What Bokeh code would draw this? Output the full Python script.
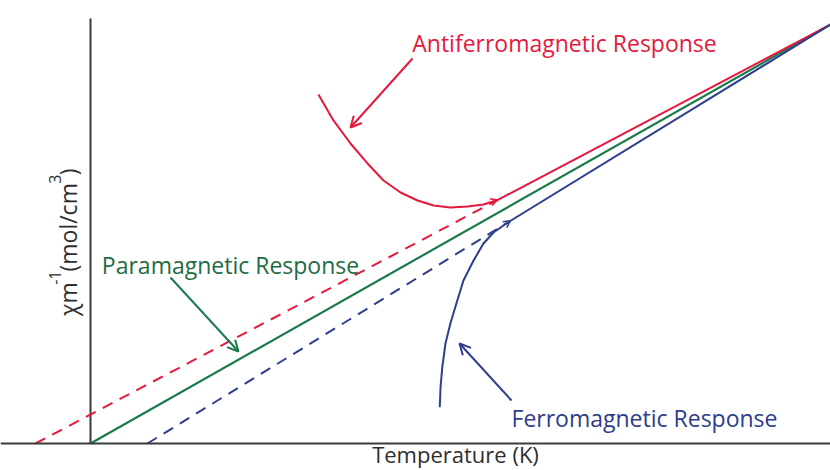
import math
from bokeh.plotting import figure
from bokeh.models import Range1d, Label, Arrow, OpenHead, Span
from bokeh.embed import file_html
from bokeh.resources import INLINE

# ---------------- data (T in K, chi^-1 in arbitrary units) ----------------
para_T = [0, 300]
para_chi = [0, 300]

afm_line_T = [165, 300]
afm_line_chi = [174.3, 300]
afm_ext_T = [-22.3, 165]
afm_ext_chi = [0, 174.3]
afm_curve_T = [92.4, 98.5, 105.4, 112.3, 118.8, 125.7, 132.6, 139.1, 145.9, 152.8, 159.3, 165.0]
afm_curve_chi = [249.9, 231.3, 214.8, 200.5, 188.3, 179.7, 174.0, 170.4, 169.0, 169.7, 171.1, 174.3]

fm_line_T = [170.3, 300]
fm_line_chi = [159.5, 300]
fm_ext_T = [23.1, 170.3]
fm_ext_chi = [0, 159.5]
fm_curve_T = [141.6, 141.9, 142.6, 143.9, 145.9, 148.7, 151.2, 155.3, 159.3, 163.4, 167.4, 170.3]
fm_curve_chi = [26.0, 40.1, 54.4, 71.6, 85.9, 102.4, 116.7, 131.0, 143.2, 151.1, 156.1, 159.5]

# ---------------- layout helpers (pixel <-> data) ----------------
W, H = 830, 470
X0, Y0 = 90, 443          # canvas pixel of the origin
KX, KY = 740 / 300, 419 / 300


def tx(px):
    return (px - X0) / KX


def ty(py):
    return (Y0 - py) / KY


RED = "#E5193D"
GREEN = "#1B7A4A"
GREEN_T = "#1D6C43"
BLUE = "#2E3D8D"
AXIS = "#3A3A3A"
TXT = "#2E2E2E"
FONT = "Open Sans"
SHIFT = 9   # renderer places the alphabetic baseline this much lower

p = figure(width=W, height=H, x_range=Range1d(tx(0), tx(W)),
           y_range=Range1d(ty(H), ty(0)), x_axis_type=None, y_axis_type=None,
           toolbar_location=None, output_backend="svg", min_border=0)
p.outline_line_color = None
p.background_fill_color = "white"

# axes
p.add_layout(Span(location=0, dimension="width", line_color=AXIS, line_width=2))
p.line([0, 0], [0, ty(18)], line_color=AXIS, line_width=2)

# lines
DASH = "11 8"
p.line(afm_ext_T, afm_ext_chi, line_color=RED, line_width=2, line_dash=DASH)
p.line(fm_ext_T, fm_ext_chi, line_color=BLUE, line_width=2, line_dash=DASH)
p.line(para_T, para_chi, line_color=GREEN, line_width=2.2)
p.line(afm_line_T, afm_line_chi, line_color=RED, line_width=2)
p.line(fm_line_T, fm_line_chi, line_color=BLUE, line_width=2)
p.line(afm_curve_T, afm_curve_chi, line_color=RED, line_width=2)
p.line(fm_curve_T, fm_curve_chi, line_color=BLUE, line_width=2)

# small heads at the end of the curves
p.add_layout(Arrow(end=OpenHead(size=7, line_color=RED, line_width=1.5),
                   x_start=afm_curve_T[-2], y_start=afm_curve_chi[-2],
                   x_end=afm_curve_T[-1], y_end=afm_curve_chi[-1], line_alpha=0))
p.add_layout(Arrow(end=OpenHead(size=7, line_color=BLUE, line_width=1.5),
                   x_start=fm_curve_T[-2], y_start=fm_curve_chi[-2],
                   x_end=fm_curve_T[-1], y_end=fm_curve_chi[-1], line_alpha=0))

# annotation arrows
for (x1, y1, x2, y2, c) in [(412, 58, 350, 127, RED), (170, 277, 238, 351, GREEN),
                            (511, 400, 459, 343, BLUE)]:
    p.add_layout(Arrow(end=OpenHead(size=11, line_color=c, line_width=2),
                       x_start=tx(x1), y_start=ty(y1), x_end=tx(x2), y_end=ty(y2),
                       line_color=c, line_width=2))


# texts
def lab(txt, px, py, color, size=23, align="center", angle=0.0):
    if angle:
        px -= SHIFT
    else:
        py -= SHIFT
    p.add_layout(Label(x=tx(px), y=ty(py), text=txt, text_color=color,
                       text_font=FONT, text_font_size=f"{size}px", text_align=align,
                       text_baseline="alphabetic", angle=angle))


lab("Antiferromagnetic Response", 564, 51, RED)
lab("Paramagnetic Response", 230, 273, GREEN_T)
lab("Ferromagnetic Response", 644, 426, BLUE)
lab("Temperature (K)", 455, 462, TXT, 22)

# y axis title, composed of pieces (rotated, reading upwards)
ADV = {"χ": 0.537, "m": 0.924, "-": 0.322, "1": 0.572, "3": 0.572, "(": 0.295,
       ")": 0.295, "o": 0.602, "l": 0.256, "/": 0.366, "c": 0.478, " ": 0.26}
SCALE = 0.93
F_MAIN, F_SUP = 23, 16
BASE_X, SUP_X = 76, 63
pieces = [("χm", False), ("-1", True), (" (mol/cm", False), ("3", True), (")", False)]


def adv(s, fs):
    return sum(ADV[ch] for ch in s) * fs * SCALE


total = sum(adv(s, F_SUP if sup else F_MAIN) for s, sup in pieces)
pos = 242 + total / 2
for s, sup in pieces:
    fs = F_SUP if sup else F_MAIN
    lab(s, SUP_X if sup else BASE_X, pos, TXT, fs, "left", math.pi / 2)
    pos -= adv(s, fs)

open("out.html", "w").write(file_html(p, INLINE))
